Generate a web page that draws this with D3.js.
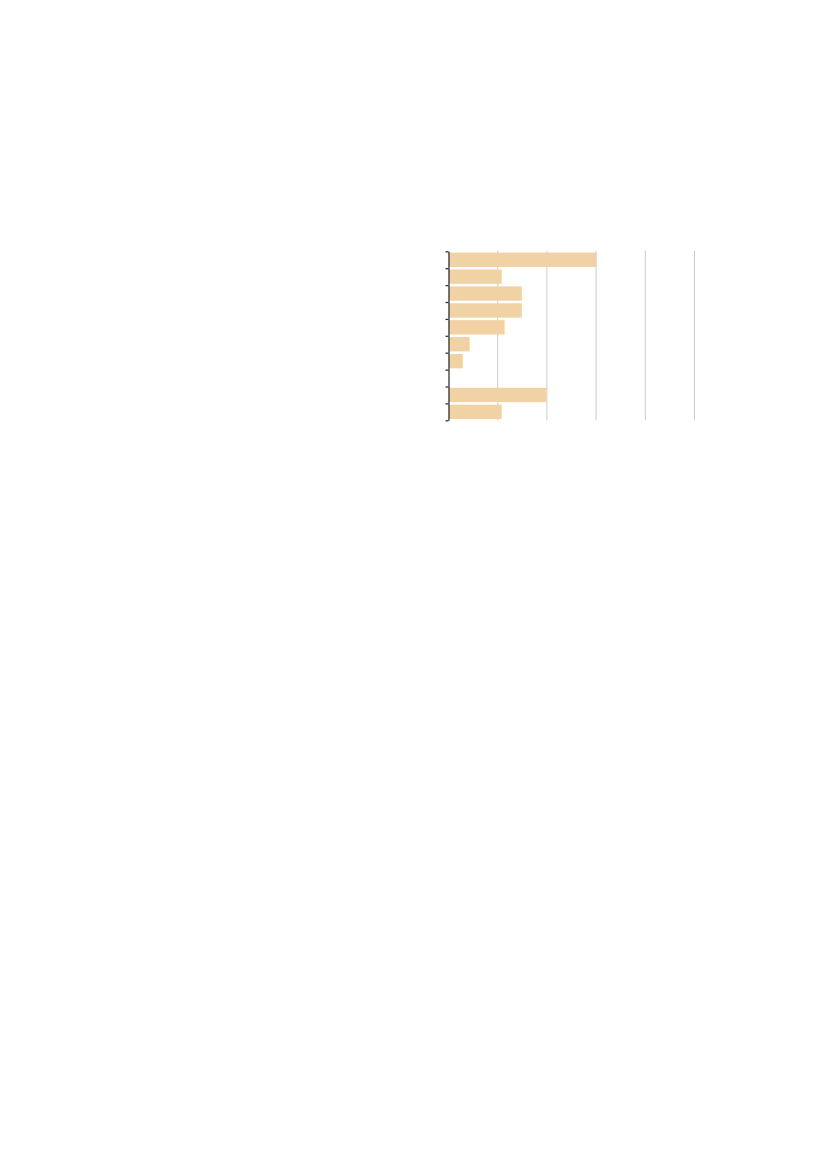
<!DOCTYPE html>
<html>
<head>
<meta charset="utf-8">
<script src="https://cdn.jsdelivr.net/npm/d3@7"></script>
<style>
html,body{margin:0;padding:0;background:#fff;}
svg{display:block;}
</style>
</head>
<body>
<svg id="chart" width="827" height="1169"></svg>
<script>
const categories = ["A","B","C","D","E","F","G","H","I","J"];
const values = [3.0, 1.08, 1.49, 1.49, 1.14, 0.43, 0.29, 0, 1.99, 1.08];
const xTicks = [1, 2, 3, 4, 5];

(function () {
  const svg = d3.select("#chart");
  const mLeft = 448.5, mRight = 694.5, mTop = 251.3, mBottom = 420.3;

  const x = d3.scaleLinear().domain([0, 5]).range([mLeft, mRight]);
  const y = d3.scaleBand().domain(categories).range([mTop, mBottom])
    .paddingInner(0.15).paddingOuter(0.075);
  const yEdge = d3.scaleLinear().domain([0, categories.length]).range([mTop, mBottom]);

  // gridlines
  svg.append("g").selectAll("line").data(xTicks).join("line")
    .attr("x1", d => x(d)).attr("x2", d => x(d))
    .attr("y1", mTop - 0.6).attr("y2", mBottom)
    .attr("stroke", "#cccccc").attr("stroke-width", 1);

  // bars
  svg.append("g").selectAll("rect").data(categories).join("rect")
    .attr("x", x(0))
    .attr("y", d => y(d))
    .attr("width", (d, i) => x(values[i]) - x(0))
    .attr("height", y.bandwidth())
    .attr("fill", "#f0d2a5");

  // y axis with ticks at band edges, no labels
  const yAxis = d3.axisLeft(yEdge).tickValues(d3.range(0, categories.length + 1))
    .tickFormat("").tickSize(3).tickSizeOuter(0);
  const g = svg.append("g").attr("transform", `translate(${mLeft},0)`).call(yAxis);
  g.select(".domain").attr("stroke", "#333").attr("stroke-width", 1.3);
  g.selectAll(".tick line").attr("stroke", "#333").attr("stroke-width", 1.3);
})();
</script>
</body>
</html>
